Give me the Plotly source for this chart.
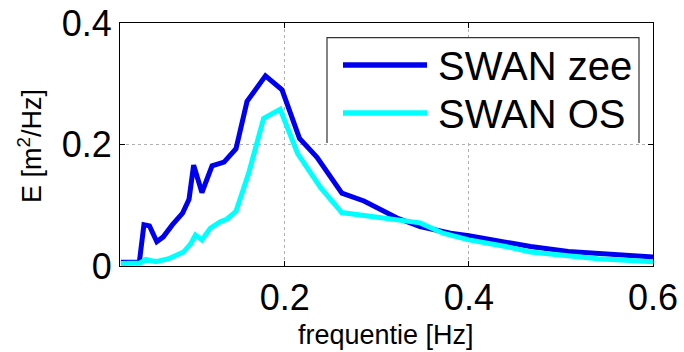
import plotly.graph_objects as go

# ---- data ----
freq_zee = [0.022, 0.042, 0.047, 0.053, 0.061, 0.068, 0.078, 0.089, 0.096, 0.101,
            0.110, 0.121, 0.134, 0.147, 0.159, 0.179, 0.197, 0.216, 0.235, 0.262,
            0.286, 0.304, 0.322, 0.347, 0.380, 0.400, 0.440, 0.467, 0.508, 0.540, 0.600]
E_zee = [0.006, 0.006, 0.068, 0.066, 0.040, 0.048, 0.068, 0.087, 0.110, 0.166,
         0.121, 0.165, 0.171, 0.193, 0.271, 0.313, 0.290, 0.210, 0.179, 0.120,
         0.107, 0.093, 0.079, 0.065, 0.054, 0.050, 0.039, 0.032, 0.024, 0.021, 0.015]

freq_os = [0.022, 0.043, 0.049, 0.060, 0.074, 0.090, 0.098, 0.103, 0.110, 0.119,
           0.130, 0.137, 0.147, 0.161, 0.177, 0.195, 0.214, 0.239, 0.262, 0.293,
           0.322, 0.347, 0.372, 0.400, 0.440, 0.467, 0.540, 0.600]
E_os = [0.004, 0.005, 0.011, 0.007, 0.012, 0.023, 0.037, 0.051, 0.043, 0.062,
        0.073, 0.077, 0.090, 0.154, 0.243, 0.258, 0.185, 0.129, 0.088, 0.082,
        0.076, 0.071, 0.054, 0.043, 0.032, 0.023, 0.012, 0.007]

series_names = ["SWAN zee", "SWAN OS"]
series_colors = ["#0000F0", "#00FFFF"]
x_ticks = [0.2, 0.4, 0.6]
y_ticks = [0, 0.2, 0.4]
x_title = "frequentie [Hz]"
y_title = "E [m<sup>2</sup>/Hz]"

FONT = "Liberation Sans, Arial, sans-serif"

fig = go.Figure()
fig.add_trace(go.Scatter(x=freq_zee, y=E_zee, mode="lines", name=series_names[0],
                         line=dict(color=series_colors[0], width=5), showlegend=False))
fig.add_trace(go.Scatter(x=freq_os, y=E_os, mode="lines", name=series_names[1],
                         line=dict(color=series_colors[1], width=5), showlegend=False))

axis_common = dict(
    showline=True, linecolor="black", linewidth=1, mirror="ticks",
    ticks="inside", ticklen=5, tickcolor="black", tickwidth=1,
    showgrid=True, gridcolor="#b0b0b0", griddash="dot", gridwidth=1,
    zeroline=False, automargin=False,
    tickfont=dict(family=FONT, size=36, color="black"),
)
fig.update_xaxes(range=[0.021, 0.6], tickvals=x_ticks,
                 ticktext=[str(v) for v in x_ticks], **axis_common)
fig.update_yaxes(range=[0, 0.4], tickvals=y_ticks,
                 ticktext=[str(v) for v in y_ticks], **axis_common)

# plot-area geometry (px) used to place legend / titles
L, R, T, B = 120, 653, 23, 266
W, H = R - L, B - T
px = lambda x: (x - L) / W
py = lambda y: (B - y) / H

shapes = []
# legend box (white fill + frame)
shapes.append(dict(type="rect", xref="paper", yref="paper",
                   x0=px(327), x1=px(639), y0=py(143), y1=py(37.7),
                   fillcolor="white", line=dict(width=0), layer="above"))
shapes.append(dict(type="path", xref="paper", yref="paper",
                   path=f"M {px(327)},{py(143)} L {px(327)},{py(37.7)} L {px(639)},{py(37.7)} L {px(639)},{py(143)}",
                   line=dict(color="#333333", width=1.2), layer="above"))
legend_y = [65, 113]
for name, col, yy in zip(series_names, series_colors, legend_y):
    shapes.append(dict(type="line", xref="paper", yref="paper",
                       x0=px(343), x1=px(427), y0=py(yy), y1=py(yy),
                       line=dict(color=col, width=5.5), layer="above"))

annotations = []
for name, yy in zip(series_names, legend_y):
    annotations.append(dict(text=name, xref="paper", yref="paper", x=px(436), y=py(yy + 1),
                            xanchor="left", yanchor="middle", showarrow=False,
                            font=dict(family=FONT, size=40, color="black")))
annotations.append(dict(text=x_title, xref="paper", yref="paper", x=px(386), y=py(335),
                        xanchor="center", yanchor="middle", showarrow=False,
                        font=dict(family=FONT, size=27, color="black")))
annotations.append(dict(text=y_title, xref="paper", yref="paper", x=px(30), y=py(146),
                        xanchor="center", yanchor="middle", showarrow=False, textangle=-90,
                        font=dict(family=FONT, size=27, color="black")))

fig.update_layout(
    width=684, height=352,
    margin=dict(l=L, r=684 - R, t=T, b=352 - B, pad=0, autoexpand=False),
    paper_bgcolor="white", plot_bgcolor="white",
    shapes=shapes, annotations=annotations,
    font=dict(family=FONT, color="black"),
    showlegend=False,
)

fig.write_html("out.html", config={"displayModeBar": False},
               post_script="document.body.style.margin='0';")
